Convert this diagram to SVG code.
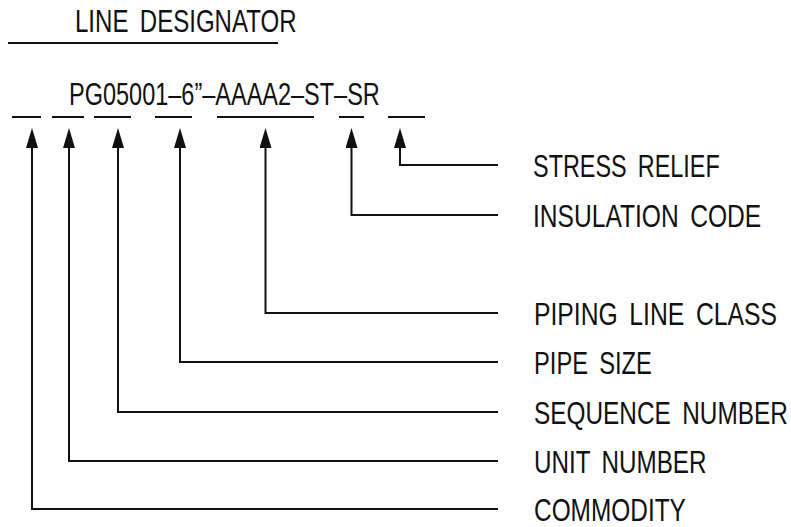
<svg xmlns="http://www.w3.org/2000/svg" width="791" height="527" viewBox="0 0 791 527">
<style>
text{font-family:"Liberation Sans",Arial,sans-serif;font-size:31px;fill:#111;word-spacing:6px}
.ln{stroke:#111;stroke-width:2;fill:none}
.conn path{stroke:#111;stroke-width:2;fill:none;marker-end:url(#ah)}
</style>
<defs>
<marker id="ah" markerUnits="userSpaceOnUse" markerWidth="20" markerHeight="12" refX="2" refY="6" orient="auto">
<path d="M0,0 L20,6 L0,12 Z" fill="#111"/>
</marker>
</defs>
<rect width="791" height="527" fill="#fff"/>
<g id="header">
<text transform="matrix(0.776,0,0,1,75,32)">LINE DESIGNATOR</text>
<line class="ln" x1="8" y1="43" x2="278" y2="43"/>
</g>
<g id="code">
<text transform="matrix(0.758,0,0,1,69,105)" style="word-spacing:0">PG05001–6”–AAAA2–ST–SR</text>
<line class="ln" x1="12" y1="117" x2="41" y2="117"/>
<line class="ln" x1="52" y1="117" x2="84" y2="117"/>
<line class="ln" x1="94" y1="117" x2="131" y2="117"/>
<line class="ln" x1="155" y1="117" x2="192" y2="117"/>
<line class="ln" x1="217" y1="117" x2="314" y2="117"/>
<line class="ln" x1="339" y1="117" x2="364" y2="117"/>
<line class="ln" x1="388" y1="117" x2="425" y2="117"/>
</g>
<g id="connectors" class="conn">
<path d="M498,165 H400 V146"/>
<path d="M498,215 H351.5 V146"/>
<path d="M498,313 H265.5 V146"/>
<path d="M498,362 H180 V146"/>
<path d="M498,412 H118 V146"/>
<path d="M498,461 H69 V146"/>
<path d="M498,509 H32 V146"/>
</g>
<g id="stress-relief"><text transform="matrix(0.756,0,0,1,533,177)">STRESS RELIEF</text></g>
<g id="insulation-code"><text transform="matrix(0.793,0,0,1,533,227)">INSULATION CODE</text></g>
<g id="piping-line-class"><text transform="matrix(0.797,0,0,1,534,325)">PIPING LINE CLASS</text></g>
<g id="pipe-size"><text transform="matrix(0.765,0,0,1,534,374)">PIPE SIZE</text></g>
<g id="sequence-number"><text transform="matrix(0.786,0,0,1,534,424)">SEQUENCE NUMBER</text></g>
<g id="unit-number"><text transform="matrix(0.782,0,0,1,534,473)">UNIT NUMBER</text></g>
<g id="commodity"><text transform="matrix(0.788,0,0,1,534,521)">COMMODITY</text></g>
</svg>
